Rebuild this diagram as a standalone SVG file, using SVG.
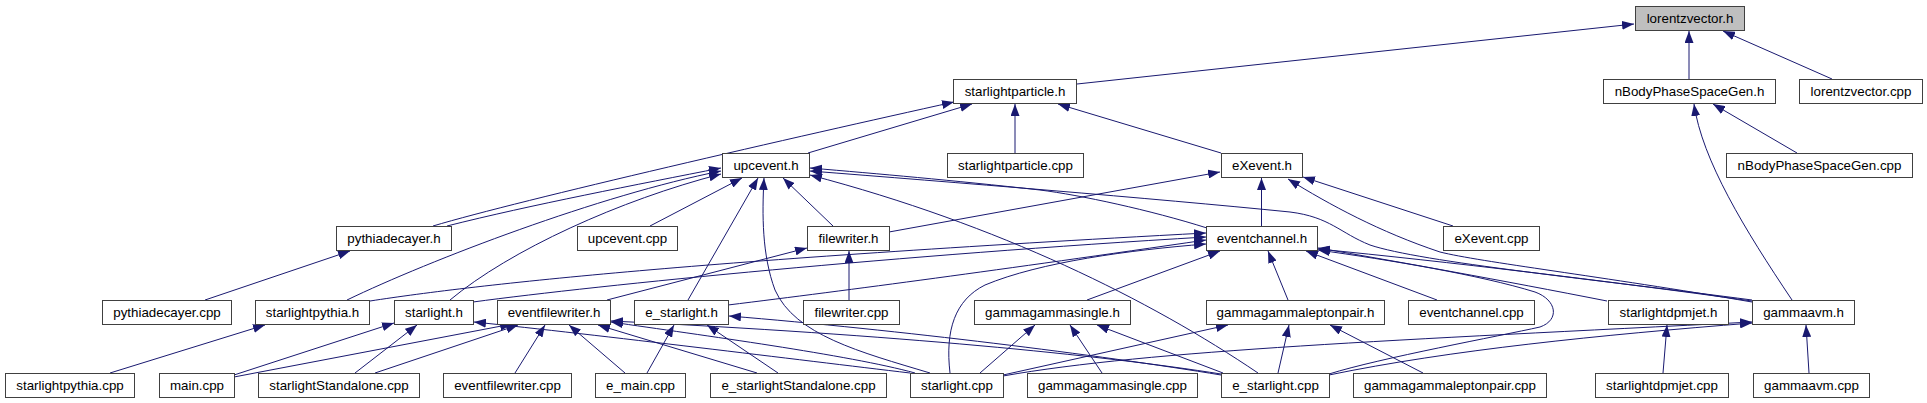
<svg xmlns="http://www.w3.org/2000/svg" width="1927" height="403" viewBox="0 0 1927 403">
<defs>
<style>
.n rect{fill:#fff;stroke:#404040;stroke-width:1}
.n text{font-family:"Liberation Sans",Arial,sans-serif;font-size:13.33px;text-anchor:middle;fill:#000}
.e path{fill:none;stroke:#191970;stroke-width:1;marker-end:url(#a)}
</style>
<marker id="a" markerWidth="12" markerHeight="9" refX="12" refY="4.5" orient="auto" markerUnits="userSpaceOnUse"><path d="M0,0 L12,4.5 L0,9 z" fill="#191970"/></marker>
</defs>
<rect width="1927" height="403" fill="#fff"/>
<g id="edges" class="e">
<path d="M1077,84 L1634,24"/>
<path d="M1689,79 L1689,31"/>
<path d="M1832,79 L1723,31"/>
<path d="M1797,153 L1713,104"/>
<path d="M1792,300 C1745,230 1702,160 1694,104"/>
<path d="M1015,153 L1015,104"/>
<path d="M808,153 L972,104"/>
<path d="M433,226 C520,200 800,136 954,102"/>
<path d="M1221,153 L1058,104"/>
<path d="M447,226 C530,205 640,184 721,168"/>
<path d="M347,300 C430,260 600,195 721,171"/>
<path d="M450,300 C510,250 620,200 721,174"/>
<path d="M650,226 L742,178"/>
<path d="M688,300 L758,178"/>
<path d="M930,373 C860,352 795,335 775,290 C762,255 762,215 764,178"/>
<path d="M833,226 L783,178"/>
<path d="M1207,228 C1150,210 1080,195 1040,190 C950,180 880,174 810,168"/>
<path d="M1258,373 C1150,300 1000,225 810,175"/>
<path d="M1752,300 C1600,280 1420,262 1370,245 C1340,233 1330,217 1290,212 C1150,198 950,182 810,171"/>
<path d="M889,232 L1220,172"/>
<path d="M1261.5,226 L1261.5,178"/>
<path d="M1453,226 L1303,177"/>
<path d="M1752,302 C1600,276 1480,262 1440,252 C1380,232 1330,205 1288,179"/>
<path d="M370,301 C480,284 700,260 1206,233"/>
<path d="M473,302 C600,285 900,255 1206,237"/>
<path d="M728,305 C850,290 1000,270 1206,240"/>
<path d="M950,373 C945,330 955,300 985,285 C1040,262 1130,250 1206,244"/>
<path d="M1087,300 L1220,251"/>
<path d="M1288,300 L1268,251"/>
<path d="M1437,300 L1306,251"/>
<path d="M1607,301 C1500,280 1400,262 1318,248"/>
<path d="M1752,301 C1600,280 1450,262 1318,249"/>
<path d="M1329,374 C1380,358 1500,336 1540,327 C1560,320 1557,300 1535,292 C1480,275 1390,260 1318,250"/>
<path d="M607,300 L807,248"/>
<path d="M849,300 L849,251"/>
<path d="M205,300 L350,251"/>
<path d="M110,373 L265,325"/>
<path d="M234,375 L394,323"/>
<path d="M355,373 L417,325"/>
<path d="M910,373 C800,360 600,335 474,322"/>
<path d="M234,377 L512,324"/>
<path d="M375,373 L518,325"/>
<path d="M515,373 L545,325"/>
<path d="M625,373 L569,325"/>
<path d="M757,373 L598,325"/>
<path d="M915,373 C850,355 700,335 611,322"/>
<path d="M1221,374 C1100,355 900,335 611,321"/>
<path d="M647,373 L674,325"/>
<path d="M778,373 L707,325"/>
<path d="M1221,375 C1100,355 900,330 729,316"/>
<path d="M980,373 L1035,325"/>
<path d="M1102,373 L1070,325"/>
<path d="M1223,373 L1097,325"/>
<path d="M1003,375 L1228,325"/>
<path d="M1278,373 L1289,325"/>
<path d="M1423,373 L1330,325"/>
<path d="M1663,373 L1667,325"/>
<path d="M1003,376 C1150,350 1400,340 1752,322"/>
<path d="M1329,375 C1450,350 1600,335 1752,323"/>
<path d="M1809,373 L1806,325"/>
</g>
<g id="lorentzvector_h" class="n"><rect x="1635.5" y="6.5" width="109" height="24" style="fill:#bfbfbf"/><text x="1690" y="23">lorentzvector.h</text></g>
<g id="starlightparticle_h" class="n"><rect x="953.5" y="79.5" width="123" height="24"/><text x="1015" y="96">starlightparticle.h</text></g>
<g id="nBodyPhaseSpaceGen_h" class="n"><rect x="1603.5" y="79.5" width="172" height="24"/><text x="1689.5" y="96">nBodyPhaseSpaceGen.h</text></g>
<g id="lorentzvector_cpp" class="n"><rect x="1799.5" y="79.5" width="123" height="24"/><text x="1861" y="96">lorentzvector.cpp</text></g>
<g id="upcevent_h" class="n"><rect x="722.5" y="153.5" width="87" height="24"/><text x="766" y="170">upcevent.h</text></g>
<g id="starlightparticle_cpp" class="n"><rect x="947.5" y="153.5" width="136" height="24"/><text x="1015.5" y="170">starlightparticle.cpp</text></g>
<g id="eXevent_h" class="n"><rect x="1221.5" y="153.5" width="81" height="24"/><text x="1262" y="170">eXevent.h</text></g>
<g id="nBodyPhaseSpaceGen_cpp" class="n"><rect x="1726.5" y="153.5" width="186" height="24"/><text x="1819.5" y="170">nBodyPhaseSpaceGen.cpp</text></g>
<g id="pythiadecayer_h" class="n"><rect x="336.5" y="226.5" width="115" height="24"/><text x="394" y="243">pythiadecayer.h</text></g>
<g id="upcevent_cpp" class="n"><rect x="577.5" y="226.5" width="100" height="24"/><text x="627.5" y="243">upcevent.cpp</text></g>
<g id="filewriter_h" class="n"><rect x="807.5" y="226.5" width="82" height="24"/><text x="848.5" y="243">filewriter.h</text></g>
<g id="eventchannel_h" class="n"><rect x="1206.5" y="226.5" width="111" height="24"/><text x="1262" y="243">eventchannel.h</text></g>
<g id="eXevent_cpp" class="n"><rect x="1443.5" y="226.5" width="96" height="24"/><text x="1491.5" y="243">eXevent.cpp</text></g>
<g id="pythiadecayer_cpp" class="n"><rect x="102.5" y="300.5" width="129" height="24"/><text x="167" y="317">pythiadecayer.cpp</text></g>
<g id="starlightpythia_h" class="n"><rect x="255.5" y="300.5" width="114" height="24"/><text x="312.5" y="317">starlightpythia.h</text></g>
<g id="starlight_h" class="n"><rect x="394.5" y="300.5" width="79" height="24"/><text x="434" y="317">starlight.h</text></g>
<g id="eventfilewriter_h" class="n"><rect x="497.5" y="300.5" width="113" height="24"/><text x="554" y="317">eventfilewriter.h</text></g>
<g id="e_starlight_h" class="n"><rect x="634.5" y="300.5" width="94" height="24"/><text x="681.5" y="317">e_starlight.h</text></g>
<g id="filewriter_cpp" class="n"><rect x="803.5" y="300.5" width="96" height="24"/><text x="851.5" y="317">filewriter.cpp</text></g>
<g id="gammagammasingle_h" class="n"><rect x="974.5" y="300.5" width="156" height="24"/><text x="1052.5" y="317">gammagammasingle.h</text></g>
<g id="gammagammaleptonpair_h" class="n"><rect x="1206.5" y="300.5" width="178" height="24"/><text x="1295.5" y="317">gammagammaleptonpair.h</text></g>
<g id="eventchannel_cpp" class="n"><rect x="1408.5" y="300.5" width="126" height="24"/><text x="1471.5" y="317">eventchannel.cpp</text></g>
<g id="starlightdpmjet_h" class="n"><rect x="1608.5" y="300.5" width="120" height="24"/><text x="1668.5" y="317">starlightdpmjet.h</text></g>
<g id="gammaavm_h" class="n"><rect x="1752.5" y="300.5" width="102" height="24"/><text x="1803.5" y="317">gammaavm.h</text></g>
<g id="starlightpythia_cpp" class="n"><rect x="5.5" y="373.5" width="129" height="24"/><text x="70" y="390">starlightpythia.cpp</text></g>
<g id="main_cpp" class="n"><rect x="159.5" y="373.5" width="75" height="24"/><text x="197" y="390">main.cpp</text></g>
<g id="starlightStandalone_cpp" class="n"><rect x="258.5" y="373.5" width="161" height="24"/><text x="339" y="390">starlightStandalone.cpp</text></g>
<g id="eventfilewriter_cpp" class="n"><rect x="443.5" y="373.5" width="128" height="24"/><text x="507.5" y="390">eventfilewriter.cpp</text></g>
<g id="e_main_cpp" class="n"><rect x="595.5" y="373.5" width="90" height="24"/><text x="640.5" y="390">e_main.cpp</text></g>
<g id="e_starlightStandalone_cpp" class="n"><rect x="710.5" y="373.5" width="176" height="24"/><text x="798.5" y="390">e_starlightStandalone.cpp</text></g>
<g id="starlight_cpp" class="n"><rect x="910.5" y="373.5" width="93" height="24"/><text x="957" y="390">starlight.cpp</text></g>
<g id="gammagammasingle_cpp" class="n"><rect x="1027.5" y="373.5" width="170" height="24"/><text x="1112.5" y="390">gammagammasingle.cpp</text></g>
<g id="e_starlight_cpp" class="n"><rect x="1221.5" y="373.5" width="108" height="24"/><text x="1275.5" y="390">e_starlight.cpp</text></g>
<g id="gammagammaleptonpair_cpp" class="n"><rect x="1353.5" y="373.5" width="193" height="24"/><text x="1450" y="390">gammagammaleptonpair.cpp</text></g>
<g id="starlightdpmjet_cpp" class="n"><rect x="1595.5" y="373.5" width="133" height="24"/><text x="1662" y="390">starlightdpmjet.cpp</text></g>
<g id="gammaavm_cpp" class="n"><rect x="1753.5" y="373.5" width="116" height="24"/><text x="1811.5" y="390">gammaavm.cpp</text></g>
</svg>
